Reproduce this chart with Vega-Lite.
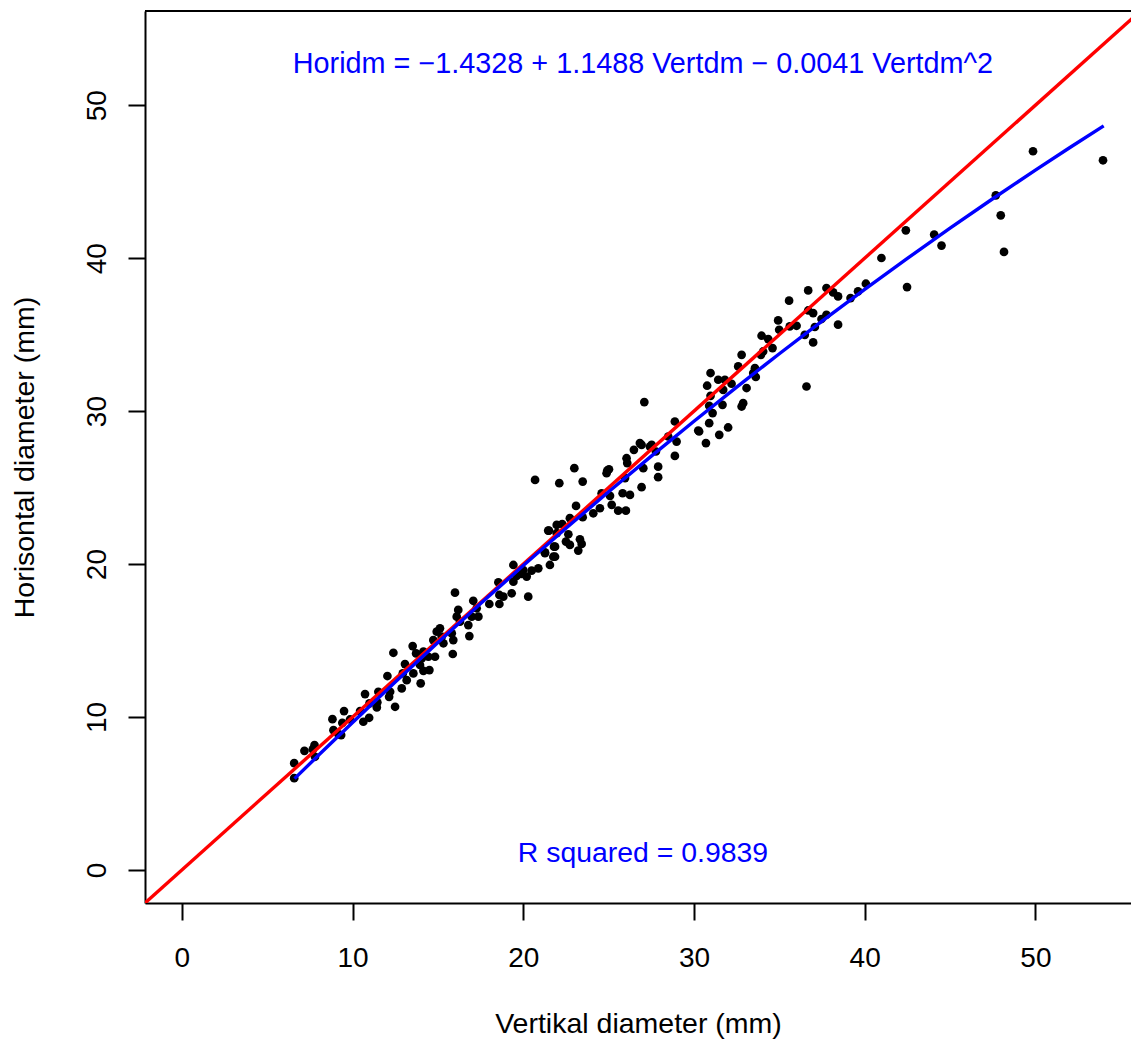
{
  "$schema": "https://vega.github.io/schema/vega-lite/v6.json",
  "width": 986,
  "height": 892,
  "autosize": {"type": "none"},
  "padding": {"left": 145, "top": 11, "right": 0, "bottom": 136},
  "background": "white",
  "config": {
    "view": {"stroke": null},
    "font": "Liberation Sans",
    "axis": {
      "grid": false,
      "domainColor": "black",
      "domainWidth": 2,
      "tickColor": "black",
      "tickWidth": 2,
      "tickSize": 17,
      "labelFont": "Liberation Sans",
      "labelFontSize": 28,
      "labelColor": "black",
      "labelFlush": false,
      "labelOverlap": false,
      "titleFont": "Liberation Sans",
      "titleFontSize": 28.5,
      "titleFontWeight": "normal",
      "titleColor": "black"
    }
  },
  "datasets": {
    "pts": [
      {"v": 6.58, "h": 6.98}, {"v": 6.58, "h": 6.0}, {"v": 7.18, "h": 7.79}, {"v": 7.77, "h": 8.16}, {"v": 7.67, "h": 7.88},
      {"v": 7.8, "h": 7.4}, {"v": 8.82, "h": 9.86}, {"v": 8.88, "h": 9.14}, {"v": 9.4, "h": 9.62}, {"v": 9.5, "h": 10.39},
      {"v": 9.33, "h": 8.82}, {"v": 9.17, "h": 8.88}, {"v": 9.85, "h": 9.84}, {"v": 10.44, "h": 10.39}, {"v": 10.63, "h": 9.69},
      {"v": 10.97, "h": 9.95}, {"v": 10.73, "h": 11.5}, {"v": 10.99, "h": 10.89}, {"v": 11.42, "h": 10.63}, {"v": 11.45, "h": 10.96},
      {"v": 11.51, "h": 11.65}, {"v": 12.04, "h": 12.68}, {"v": 12.14, "h": 11.32}, {"v": 12.2, "h": 11.65}, {"v": 12.49, "h": 10.67},
      {"v": 12.39, "h": 14.2}, {"v": 12.88, "h": 11.87}, {"v": 12.94, "h": 12.85}, {"v": 13.07, "h": 13.46}, {"v": 13.17, "h": 12.41},
      {"v": 13.52, "h": 14.64}, {"v": 13.56, "h": 12.85}, {"v": 13.72, "h": 14.16}, {"v": 13.99, "h": 12.2}, {"v": 14.05, "h": 13.83},
      {"v": 14.15, "h": 13.02},
      {"v": 14.15, "h": 14.27}, {"v": 13.95, "h": 13.4}, {"v": 14.44, "h": 13.94}, {"v": 14.5, "h": 13.07}, {"v": 14.83, "h": 13.94},
      {"v": 14.73, "h": 15.03}, {"v": 14.93, "h": 15.58}, {"v": 15.12, "h": 15.8}, {"v": 15.32, "h": 14.82}, {"v": 15.22, "h": 15.25},
      {"v": 15.81, "h": 15.47}, {"v": 15.9, "h": 15.03}, {"v": 15.87, "h": 14.12}, {"v": 16.0, "h": 18.13}, {"v": 16.1, "h": 16.56},
      {"v": 16.19, "h": 17.0}, {"v": 16.29, "h": 16.23}, {"v": 16.78, "h": 16.01}, {"v": 16.84, "h": 15.29}, {"v": 16.98, "h": 16.56},
      {"v": 17.07, "h": 17.6}, {"v": 17.37, "h": 16.56}, {"v": 17.27, "h": 17.11}, {"v": 18.01, "h": 17.39}, {"v": 18.6, "h": 17.39},
      {"v": 18.6, "h": 17.98}, {"v": 18.83, "h": 17.87}, {"v": 18.54, "h": 18.81}, {"v": 19.32, "h": 18.09}, {"v": 19.42, "h": 18.85},
      {"v": 19.42, "h": 19.94}, {"v": 19.61, "h": 19.22}, {"v": 19.91, "h": 19.35}, {"v": 20.0, "h": 19.61}, {"v": 20.2, "h": 19.18},
      {"v": 20.29, "h": 17.87}, {"v": 20.49, "h": 19.57}, {"v": 20.88, "h": 19.72}, {"v": 21.27, "h": 20.71}, {"v": 21.56, "h": 19.94},
      {"v": 21.76, "h": 20.48}, {"v": 21.86, "h": 21.14}, {"v": 21.96, "h": 22.56}, {"v": 21.46, "h": 22.19},
      {"v": 20.69, "h": 25.5}, {"v": 22.11, "h": 25.29}, {"v": 22.99, "h": 26.27}, {"v": 23.48, "h": 25.39}, {"v": 27.09, "h": 30.59},
      {"v": 28.88, "h": 29.32}, {"v": 30.25, "h": 28.73}, {"v": 28.98, "h": 28.01}, {"v": 28.88, "h": 27.07}, {"v": 28.49, "h": 28.34},
      {"v": 26.93, "h": 27.79}, {"v": 27.52, "h": 27.79}, {"v": 27.77, "h": 27.36}, {"v": 26.83, "h": 27.91}, {"v": 27.42, "h": 27.68},
      {"v": 26.48, "h": 27.47}, {"v": 26.05, "h": 26.92}, {"v": 26.09, "h": 26.6}, {"v": 27.03, "h": 26.27}, {"v": 27.9, "h": 26.37},
      {"v": 27.9, "h": 25.68}, {"v": 26.93, "h": 25.03}, {"v": 25.96, "h": 25.62}, {"v": 25.02, "h": 26.2}, {"v": 24.88, "h": 25.94},
      {"v": 24.92, "h": 26.11}, {"v": 25.82, "h": 24.63}, {"v": 26.25, "h": 24.52}, {"v": 25.08, "h": 24.46}, {"v": 24.59, "h": 24.63},
      {"v": 25.18, "h": 23.87}, {"v": 25.56, "h": 23.49}, {"v": 26.01, "h": 23.49}, {"v": 24.49, "h": 23.65}, {"v": 24.1, "h": 23.32},
      {"v": 23.09, "h": 23.8}, {"v": 23.48, "h": 23.06}, {"v": 22.73, "h": 23.0}, {"v": 22.28, "h": 22.62}, {"v": 21.5, "h": 22.19},
      {"v": 21.96, "h": 22.02}, {"v": 22.64, "h": 21.95}, {"v": 22.5, "h": 21.47}, {"v": 22.73, "h": 21.25}, {"v": 23.32, "h": 21.62},
      {"v": 23.42, "h": 21.32}, {"v": 23.22, "h": 20.88}, {"v": 21.27, "h": 20.77}, {"v": 21.8, "h": 21.14}, {"v": 21.86, "h": 20.48},
      {"v": 36.69, "h": 37.89}, {"v": 37.76, "h": 38.05}, {"v": 38.15, "h": 37.76}, {"v": 38.44, "h": 37.5}, {"v": 35.57, "h": 37.22},
      {"v": 36.69, "h": 36.58}, {"v": 36.98, "h": 36.41}, {"v": 37.76, "h": 36.3}, {"v": 37.47, "h": 36.02}, {"v": 38.44, "h": 35.65},
      {"v": 37.08, "h": 35.5}, {"v": 36.49, "h": 34.99}, {"v": 36.98, "h": 34.49}, {"v": 36.59, "h": 31.61}, {"v": 34.93, "h": 35.93},
      {"v": 34.99, "h": 35.32}, {"v": 35.61, "h": 35.54}, {"v": 36.01, "h": 35.58}, {"v": 33.96, "h": 34.93}, {"v": 34.35, "h": 34.71},
      {"v": 34.6, "h": 34.12}, {"v": 33.92, "h": 33.68}, {"v": 34.05, "h": 33.9}, {"v": 32.79, "h": 33.68}, {"v": 32.59, "h": 32.92},
      {"v": 33.57, "h": 32.81}, {"v": 33.47, "h": 32.49}, {"v": 33.62, "h": 32.23}, {"v": 33.08, "h": 31.51}, {"v": 32.2, "h": 31.79},
      {"v": 31.81, "h": 32.05}, {"v": 31.42, "h": 32.05}, {"v": 30.97, "h": 32.49}, {"v": 30.77, "h": 31.66}, {"v": 30.97, "h": 31.0},
      {"v": 31.71, "h": 31.39}, {"v": 31.67, "h": 30.41}, {"v": 30.89, "h": 30.35}, {"v": 31.09, "h": 29.87}, {"v": 32.79, "h": 30.3},
      {"v": 32.88, "h": 30.52}, {"v": 30.89, "h": 29.21}, {"v": 30.3, "h": 28.67}, {"v": 31.48, "h": 28.45}, {"v": 32.0, "h": 28.93},
      {"v": 30.7, "h": 27.91},
      {"v": 39.17, "h": 37.39}, {"v": 39.61, "h": 37.83}, {"v": 40.07, "h": 38.33}, {"v": 40.98, "h": 40.01}, {"v": 42.48, "h": 38.11},
      {"v": 42.41, "h": 41.82}, {"v": 44.07, "h": 41.54}, {"v": 44.5, "h": 40.82}, {"v": 47.68, "h": 44.11}, {"v": 47.97, "h": 42.8},
      {"v": 48.16, "h": 40.41}, {"v": 49.86, "h": 46.99}, {"v": 53.96, "h": 46.4}
    ],
    "diag": [{"v": -3, "h": -3}, {"v": 60, "h": 60}],
    "fit": [
      {"v": 6.6, "h": 5.9707}, {"v": 8, "h": 7.4952}, {"v": 10, "h": 9.6452}, {"v": 12.5, "h": 12.2866}, {"v": 15, "h": 14.8767},
      {"v": 17.5, "h": 17.4156}, {"v": 20, "h": 19.9032}, {"v": 22.5, "h": 22.3396}, {"v": 25, "h": 24.7247}, {"v": 27.5, "h": 27.0586},
      {"v": 30, "h": 29.3412}, {"v": 32.5, "h": 31.5726}, {"v": 35, "h": 33.7527}, {"v": 37.5, "h": 35.8816}, {"v": 40, "h": 37.9592},
      {"v": 42.5, "h": 39.9856}, {"v": 45, "h": 41.9607}, {"v": 47.5, "h": 43.8846}, {"v": 50, "h": 45.7572}, {"v": 52, "h": 47.2184},
      {"v": 54, "h": 48.6468}
    ]
  },
  "layer": [
    {
      "data": {"name": "pts"},
      "mark": {"type": "circle", "size": 76, "color": "black", "opacity": 1},
      "encoding": {
        "x": {
          "field": "v",
          "type": "quantitative",
          "scale": {"domain": [-2.16, 55.6], "nice": false, "zero": false},
          "axis": {
            "values": [0, 10, 20, 30, 40, 50],
            "title": "Vertikal diameter (mm)",
            "labelPadding": 24,
            "titlePadding": 37
          }
        },
        "y": {
          "field": "h",
          "type": "quantitative",
          "scale": {"domain": [-2.16, 56.16], "nice": false, "zero": false},
          "axis": {
            "values": [0, 10, 20, 30, 40, 50],
            "title": "Horisontal diameter (mm)",
            "labelAngle": -90,
            "labelAlign": "center",
            "labelBaseline": "alphabetic",
            "labelPadding": 23,
            "titlePadding": 44
          }
        }
      }
    },
    {
      "data": {"name": "diag"},
      "mark": {"type": "line", "color": "#FF0000", "strokeWidth": 3.4, "clip": true},
      "encoding": {
        "x": {"field": "v", "type": "quantitative"},
        "y": {"field": "h", "type": "quantitative"}
      }
    },
    {
      "data": {"name": "fit"},
      "mark": {"type": "line", "color": "#0000FF", "strokeWidth": 3.4},
      "encoding": {
        "x": {"field": "v", "type": "quantitative"},
        "y": {"field": "h", "type": "quantitative"}
      }
    },
    {
      "data": {"values": [{}]},
      "mark": {"type": "rule", "color": "black", "strokeWidth": 2},
      "encoding": {
        "x": {"datum": -2.16, "type": "quantitative"},
        "x2": {"datum": 55.6},
        "y": {"datum": 56.16, "type": "quantitative"}
      }
    },
    {
      "data": {"values": [{}]},
      "mark": {"type": "text", "color": "#0000FF", "fontSize": 28.8, "font": "Liberation Sans", "align": "center", "baseline": "alphabetic"},
      "encoding": {
        "x": {"datum": 27.01, "type": "quantitative"},
        "y": {"datum": 52.12, "type": "quantitative"},
        "text": {"value": "Horidm = −1.4328 + 1.1488 Vertdm − 0.0041 Vertdm^2"}
      }
    },
    {
      "data": {"values": [{}]},
      "mark": {"type": "text", "color": "#0000FF", "fontSize": 28.4, "font": "Liberation Sans", "align": "center", "baseline": "alphabetic"},
      "encoding": {
        "x": {"datum": 27.01, "type": "quantitative"},
        "y": {"datum": 0.52, "type": "quantitative"},
        "text": {"value": "R squared = 0.9839"}
      }
    }
  ]
}
